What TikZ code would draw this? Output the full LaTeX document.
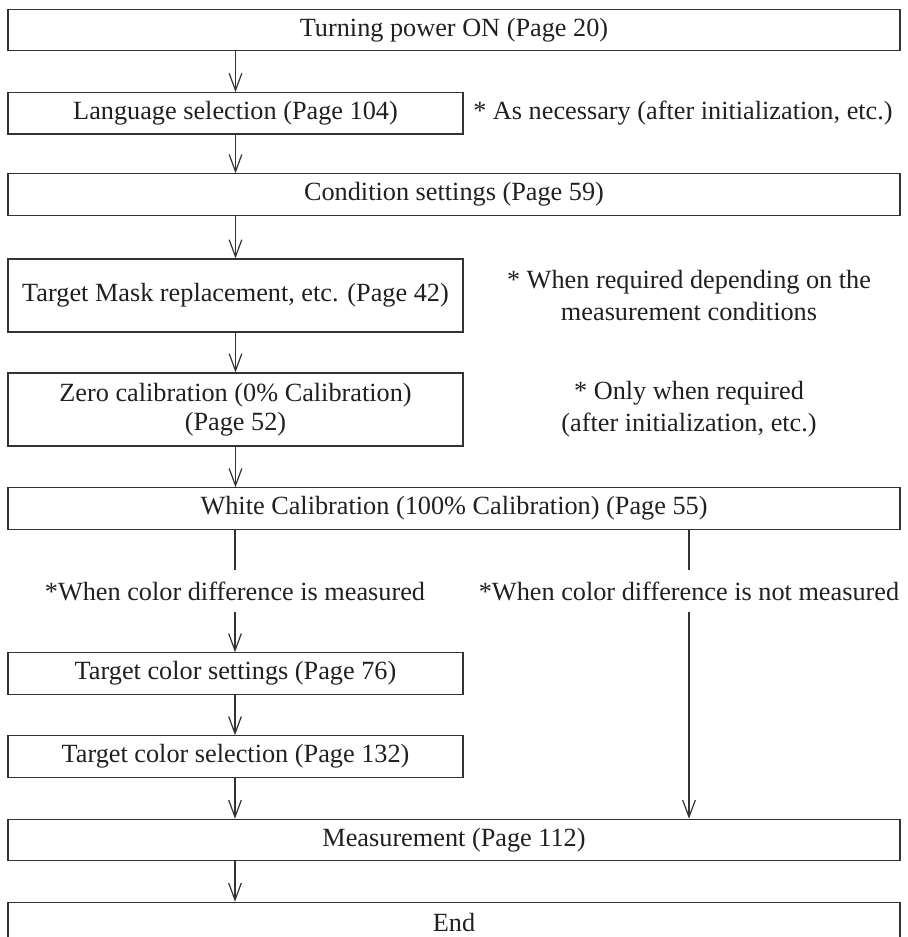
\documentclass[tikz,border=0pt]{standalone}
\usepackage{fontspec}
\setmainfont{Liberation Serif}
\usetikzlibrary{arrows.meta}
\definecolor{ln}{HTML}{333333}
\definecolor{tx}{HTML}{231F20}
\begin{document}
\begin{tikzpicture}[x=0.75pt,y=-0.75pt,
  box/.style={draw=ln, line width=0.9pt, inner sep=0pt, text=tx,
    font=\fontsize{19.7pt}{22pt}\selectfont, align=center},
  half/.style={box, minimum width=341.25pt},
  full/.style={box, minimum width=669pt},
  hs/.style={minimum height=31pt},
  ht/.style={minimum height=54.75pt},
  lbl/.style={text=tx, font=\fontsize{19.7pt}{24pt}\selectfont, align=center, inner sep=0pt},
  arr/.style={draw=ln, line width=0.9pt, -{Straight Barb[length=12.75pt,width=9.5pt]}},
  con/.style={draw=ln, line width=0.9pt}]
\useasboundingbox (0,0) rectangle (907,937);

\node[full,hs] (p1) at (454,30) {Turning power ON (Page 20)};
\node[half,hs] (p2) at (235.5,113.3) {Language selection (Page 104)};
\node[full,hs] (p3) at (454,194.5) {Condition settings (Page 59)};
\node[half,ht] (p4) at (235.5,295.5) {Target Mask replacement, etc. (Page 42)};
\node[half,ht] (p5) at (235.5,409.5) {Zero calibration (0\% Calibration)\\(Page 52)};
\node[full,hs] (p6) at (454,508.5) {White Calibration (100\% Calibration) (Page 55)};
\node[half,hs] (p7) at (235.5,673.5) {Target color settings (Page 76)};
\node[half,hs] (p8) at (235.5,756.5) {Target color selection (Page 132)};
\node[full,hs] (p9) at (454,840) {Measurement (Page 112)};
\node[full,hs] (p10) at (454,923) {End};

\node[lbl, anchor=west] (n1) at (473,113.3) {* As necessary (after initialization, etc.)};
\node[lbl] (n2) at (689,295.5) {* When required depending on the\\measurement conditions};
\node[lbl] (n3) at (689,409.5) {* Only when required\\(after initialization, etc.)};

\node[lbl, minimum height=31.5pt] (lm) at (235,591) {*When color difference is measured};
\node[lbl, minimum height=31.5pt] (rm) at (689,591) {*When color difference is not measured};

\draw[arr] (p1.south -| p2) -- (p2.north);
\draw[arr] (p2.south) -- (p3.north -| p2);
\draw[arr] (p3.south -| p4) -- (p4.north);
\draw[arr] (p4.south) -- (p5.north);
\draw[arr] (p5.south) -- (p6.north -| p5);
\draw[con] (p6.south -| lm) -- (lm.north);
\draw[arr] (lm.south) -- (p7.north -| lm);
\draw[arr] (p7.south -| lm) -- (p8.north -| lm);
\draw[arr] (p8.south -| lm) -- (p9.north -| lm);
\draw[con] (p6.south -| rm) -- (rm.north);
\draw[arr] (rm.south) -- (p9.north -| rm);
\draw[arr] (p9.south -| lm) -- (p10.north -| lm);
\end{tikzpicture}
\end{document}
